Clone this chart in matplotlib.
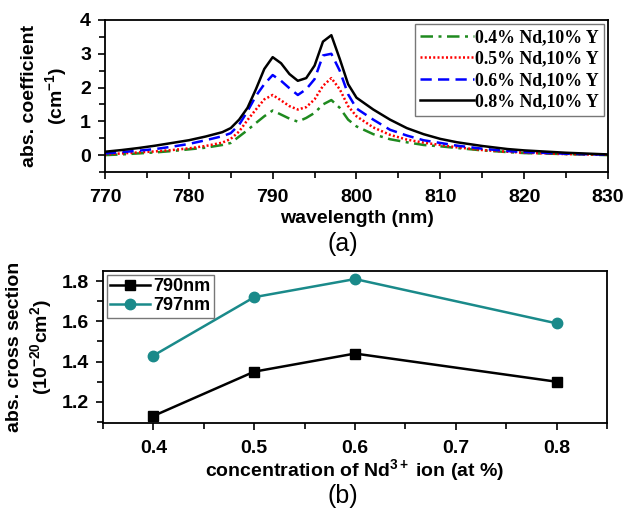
import matplotlib
matplotlib.use("Agg")
import matplotlib.pyplot as plt
from matplotlib.ticker import MultipleLocator

# ---------------- data ----------------
wavelength = [770, 772, 774, 776, 778, 780, 782, 784, 785, 786, 787, 788, 789, 790,
              791, 792, 793, 794, 795, 796, 797, 798, 799, 800, 802, 804, 806, 808,
              810, 812, 815, 818, 820, 825, 830]
abs_04 = [0.00, 0.02, 0.05, 0.08, 0.12, 0.17, 0.22, 0.30, 0.36, 0.55, 0.74, 0.95, 1.15, 1.32,
          1.20, 1.08, 0.99, 1.10, 1.25, 1.50, 1.63, 1.40, 1.05, 0.85, 0.62, 0.47, 0.38, 0.30,
          0.26, 0.21, 0.14, 0.09, 0.06, 0.03, 0.00]
abs_05 = [0.02, 0.05, 0.08, 0.11, 0.15, 0.20, 0.27, 0.37, 0.48, 0.70, 1.04, 1.35, 1.65, 1.78,
          1.62, 1.45, 1.35, 1.42, 1.65, 2.05, 2.28, 1.95, 1.45, 1.15, 0.82, 0.60, 0.46, 0.37,
          0.30, 0.23, 0.15, 0.10, 0.07, 0.03, 0.01]
abs_06 = [0.05, 0.09, 0.13, 0.18, 0.25, 0.33, 0.44, 0.56, 0.65, 0.90, 1.30, 1.75, 2.10, 2.37,
          2.20, 1.98, 1.78, 1.95, 2.25, 2.95, 3.00, 2.50, 1.80, 1.38, 1.05, 0.75, 0.58, 0.44,
          0.36, 0.28, 0.19, 0.12, 0.09, 0.04, 0.01]
abs_08 = [0.10, 0.15, 0.21, 0.28, 0.36, 0.44, 0.55, 0.68, 0.80, 1.05, 1.40, 1.95, 2.55, 2.90,
          2.72, 2.40, 2.20, 2.28, 2.65, 3.36, 3.55, 2.85, 2.10, 1.70, 1.35, 1.05, 0.80, 0.62,
          0.48, 0.38, 0.27, 0.18, 0.14, 0.07, 0.02]
legend_a = ["0.4% Nd,10% Y", "0.5% Nd,10% Y", "0.6% Nd,10% Y", "0.8% Nd,10% Y"]

concentration = [0.4, 0.5, 0.6, 0.8]
cs_790 = [1.13, 1.35, 1.44, 1.30]
cs_797 = [1.43, 1.72, 1.81, 1.59]
legend_b = ["790nm", "797nm"]

# ---------------- figure ----------------
plt.rcParams['font.family'] = ['Liberation Sans', 'DejaVu Sans']
plt.rcParams['mathtext.fontset'] = 'custom'
plt.rcParams['mathtext.rm'] = 'Liberation Sans'
plt.rcParams['mathtext.bf'] = 'Liberation Sans:bold'
plt.rcParams['mathtext.it'] = 'Liberation Sans:italic'

fig = plt.figure(figsize=(6.25, 5.14), dpi=100)

W, H = 625.0, 514.0
def rect(l, t, r, b):
    return [l / W, 1 - b / H, (r - l) / W, (b - t) / H]

ax1 = fig.add_axes(rect(105, 20, 608, 172))
ax2 = fig.add_axes(rect(103, 271, 607, 423))

lw = 1.8
ax1.plot(wavelength, abs_04, color='#1f8a1f', lw=lw, dashes=(5, 2.2, 1.2, 2.2), label=legend_a[0])
ax1.plot(wavelength, abs_05, color='#ff0000', lw=lw, dashes=(0.8, 0.9), label=legend_a[1])
ax1.plot(wavelength, abs_06, color='#0000ff', lw=lw, dashes=(4.5, 2.5), label=legend_a[2])
ax1.plot(wavelength, abs_08, color='black', lw=lw, label=legend_a[3])

ax1.set_xlim(770, 830)
ax1.set_ylim(-0.5, 4)
ax1.xaxis.set_major_locator(MultipleLocator(10))
ax1.xaxis.set_minor_locator(MultipleLocator(5))
ax1.yaxis.set_major_locator(MultipleLocator(1))
ax1.yaxis.set_minor_locator(MultipleLocator(0.5))
ax1.set_xlabel("wavelength (nm)", fontsize=14, fontweight='bold', labelpad=3)
ax1.set_ylabel("abs. coefficient\n(cm$^{\\mathbf{-1}}$)", fontsize=14, fontweight='bold',
               labelpad=8, linespacing=1.3)

leg1 = ax1.legend(loc='upper right', prop={'family': 'Liberation Serif', 'weight': 'bold', 'size': 12.8},
                  handlelength=3.0, handletextpad=0.1, labelspacing=0.25, borderpad=0.3,
                  fancybox=False, edgecolor='#777777', framealpha=1, borderaxespad=0.2)
leg1.get_frame().set_linewidth(1.0)

ax2.plot(concentration, cs_790, color='black', lw=lw, marker='s', markersize=7, label=legend_b[0])
ax2.plot(concentration, cs_797, color='#1a8a8a', lw=lw, marker='o', markersize=7.5, label=legend_b[1])
ax2.set_xlim(0.35, 0.85)
ax2.set_ylim(1.095, 1.85)
ax2.xaxis.set_major_locator(MultipleLocator(0.1))
ax2.xaxis.set_minor_locator(MultipleLocator(0.05))
ax2.yaxis.set_major_locator(MultipleLocator(0.2))
ax2.yaxis.set_minor_locator(MultipleLocator(0.1))
ax2.set_xlabel("concentration of Nd$^{\\mathbf{3+}}$ ion (at %)", fontsize=14, fontweight='bold', labelpad=0)
ax2.set_ylabel("abs. cross section\n(10$^{\\mathbf{-20}}$cm$^{\\mathbf{2}}$)", fontsize=14,
               fontweight='bold', labelpad=6, linespacing=1.25)
leg2 = ax2.legend(loc='upper left', prop={'weight': 'bold', 'size': 13},
                  handlelength=2.2, handletextpad=0.2, labelspacing=0.1, borderpad=0.2,
                  fancybox=False, edgecolor='#777777', framealpha=1, borderaxespad=0.2)
leg2.get_frame().set_linewidth(1.0)

for ax in (ax1, ax2):
    for s in ax.spines.values():
        s.set_linewidth(1.3)
    ax.tick_params(which='both', direction='out', top=False, right=False, width=1.2)
    ax.tick_params(which='major', length=5, labelsize=14)
    ax.tick_params(which='minor', length=4)
    ax.tick_params(axis='x', which='major', pad=7)
    ax.tick_params(axis='y', which='major', pad=5)
    for t in ax.get_xticklabels() + ax.get_yticklabels():
        t.set_fontweight('bold')

fig.text(343 / W, 1 - 244 / H, "(a)", fontsize=18, ha='center', va='center')
fig.text(343 / W, 1 - 496 / H, "(b)", fontsize=18, ha='center', va='center')

fig.savefig("out.png", dpi=100)
